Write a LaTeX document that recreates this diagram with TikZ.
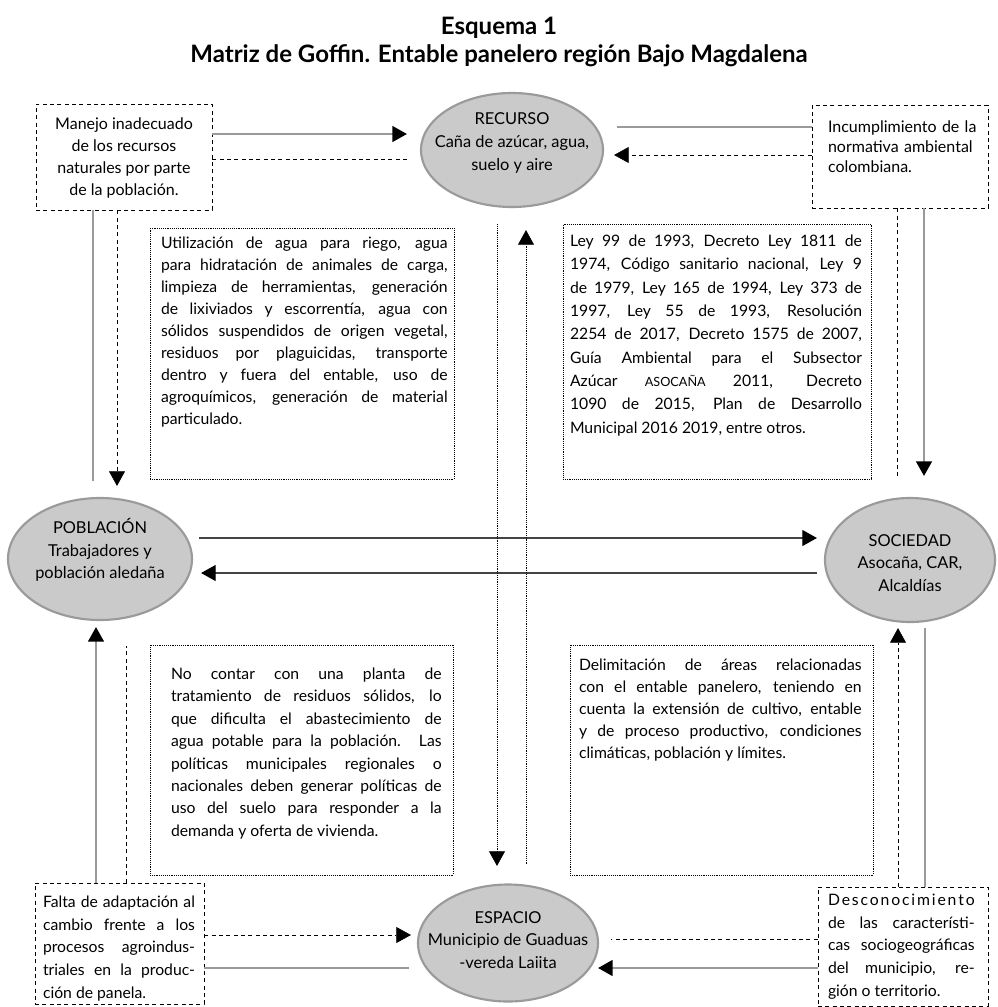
\documentclass[tikz,border=0pt]{standalone}
\usepackage{fontspec}
\setmainfont{Lato}
\usetikzlibrary{arrows.meta,calc,shapes.geometric}
\definecolor{EllipseFill}{HTML}{CACACA}
\definecolor{EllipseLine}{HTML}{9A9A9A}
\definecolor{LinkGray}{HTML}{9A9A9A}
\definecolor{LinkDark}{HTML}{444444}
\newcommand{\boxfont}{\fontsize{11.8pt}{16.5pt}\selectfont}
\newcommand{\actorfont}{\fontsize{12.3pt}{17pt}\selectfont}

\begin{document}
\begin{tikzpicture}[x=0.75pt,y=-0.75pt,line cap=butt,line join=miter,
    headed/.style={-{Triangle[length=11pt,width=12pt,color=black]}},
    actor/.style={ellipse,draw=EllipseLine,line width=1.6pt,fill=EllipseFill,inner sep=0pt},
    actortext/.style={align=center,font=\actorfont,inner sep=0pt},
    issue/.style={draw,thin,dash pattern=on 3pt off 2.5pt,inner sep=0pt},
    note/.style={draw,thin,densely dotted,inner sep=0pt},
    boxtext/.style={anchor=north west,inner sep=0pt,font=\boxfont,align=justify},
    link/.style={LinkGray,line width=1.3pt},
    dlink/.style={black,thin,dash pattern=on 3pt off 2.5pt},
    olink/.style={black,thin,densely dotted},
    mainlink/.style={LinkDark,line width=1pt}]

\useasboundingbox (0,0) rectangle (998,1007);

% Title
\node[align=center,font=\fontsize{18pt}{20.5pt}\selectfont\bfseries] (titulo) at (499,42)
    {Esquema 1\\Matriz de Goffin. Entable panelero región Bajo Magdalena};

% ---- ACTORS ----
\node[actor,minimum width=136.5pt,minimum height=85.5pt] (recurso) at (512,150) {};
\node[actor,minimum width=138pt,minimum height=91.5pt] (poblacion) at (100,559) {};
\node[actor,minimum width=127.5pt,minimum height=93pt] (sociedad) at (910,560) {};
\node[actor,minimum width=135pt,minimum height=87.75pt] (espacio) at (508,943) {};

\node[actortext] (recursoTxt) at ($(recurso)+(0,-7)$) {RECURSO\\Caña de azúcar, agua,\\suelo y aire};
\node[actortext] (poblacionTxt) at ($(poblacion)+(0,-9)$) {POBLACIÓN\\Trabajadores y\\población aledaña};
\node[actortext] (sociedadTxt) at ($(sociedad)+(0,3)$) {SOCIEDAD\\Asocaña, CAR,\\Alcaldías};
\node[actortext] (espacioTxt) at ($(espacio)+(0,-3)$) {ESPACIO\\Municipio de Guaduas\\-vereda Laiita};

% ---- PROBLEMS (dashed) ----
\node[issue,minimum width=132pt,minimum height=79.5pt] (manejo) at (124,157) {};
\node[issue,minimum width=132pt,minimum height=77.25pt] (incump) at (900,156.5) {};
\node[issue,minimum width=126.75pt,minimum height=90.75pt] (falta) at (119.5,943.5) {};
\node[issue,minimum width=127.5pt,minimum height=89.25pt] (desconoc) at (903,946.5) {};

\node[actortext,font=\fontsize{12pt}{16.3pt}\selectfont] (manejoTxt) at ($(manejo)+(0,1)$)
    {Manejo inadecuado\\de los recursos\\naturales por parte\\de la población.};
\node[boxtext,align=left,text width=125pt,font=\fontsize{12pt}{15pt}\selectfont] (incumpTxt)
    at ($(incump.north west)+(16,16)$) {Incumplimiento de la\\normativa ambiental\\colombiana.};
\node[boxtext,text width=114pt,font=\fontsize{11.8pt}{17pt}\selectfont] (faltaTxt)
    at ($(falta.north west)+(8,13)$)
    {Falta de adaptación al\linebreak cambio frente a los\linebreak procesos agroindus-\linebreak
     triales en la produc-\linebreak ción de panela.};
\node[boxtext,text width=110pt,font=\fontsize{11.8pt}{17pt}\selectfont] (desconocTxt)
    at ($(desconoc.north west)+(10,7)$)
    {\makebox[\linewidth][s]{D\hfil e\hfil s\hfil c\hfil o\hfil n\hfil o\hfil c\hfil i\hfil
     m\hfil i\hfil e\hfil n\hfil t\hfil o}\linebreak de las característi-\linebreak
     cas sociogeográficas\linebreak del municipio, re-\linebreak gión o territorio.};

% ---- RELATIONS (dotted) ----
\node[note,minimum width=228pt,minimum height=188.25pt] (usos) at (302,353.5) {};
\node[note,minimum width=231pt,minimum height=191.25pt] (normas) at (717,351.5) {};
\node[note,minimum width=227.25pt,minimum height=172.5pt] (planta) at (301.5,760) {};
\node[note,minimum width=227.25pt,minimum height=172.5pt] (delimit) at (721.5,760) {};

\node[boxtext,text width=215pt] (usosTxt) at ($(usos.north west)+(11,9)$)
    {Utilización de agua para riego, agua\linebreak para hidratación de animales de carga,\linebreak
     limpieza de herramientas, generación\linebreak de lixiviados y escorrentía, agua con\linebreak
     sólidos suspendidos de origen vegetal,\linebreak residuos por plaguicidas, transporte\linebreak
     dentro y fuera del entable, uso de\linebreak agroquímicos, generación de material\linebreak
     particulado.};
\node[boxtext,text width=219pt,font=\fontsize{11.8pt}{17.5pt}\selectfont] (normasTxt)
    at ($(normas.north west)+(7,11)$)
    {Ley 99 de 1993, Decreto Ley 1811 de\linebreak 1974, Código sanitario nacional, Ley 9\linebreak
     de 1979, Ley 165 de 1994, Ley 373 de\linebreak 1997, Ley 55 de 1993, Resolución\linebreak
     2254 de 2017, Decreto 1575 de 2007,\linebreak Guía Ambiental para el Subsector\linebreak
     Azúcar {\fontsize{9.5pt}{17.5pt}\selectfont ASOCAÑA} 2011, Decreto\linebreak
     1090 de 2015, Plan de Desarrollo\linebreak Municipal 2016 2019, entre otros.};
\node[boxtext,text width=203pt,font=\fontsize{11.8pt}{16.8pt}\selectfont] (plantaTxt)
    at ($(planta.north west)+(21,23)$)
    {No contar con una planta de\linebreak tratamiento de residuos sólidos, lo\linebreak
     que dificulta el abastecimiento de\linebreak agua potable para la población. Las\linebreak
     políticas municipales regionales o\linebreak nacionales deben generar políticas de\linebreak
     uso del suelo para responder a la\linebreak demanda y oferta de vivienda.};
\node[boxtext,text width=212pt] (delimitTxt) at ($(delimit.north west)+(9,14)$)
    {Delimitación de áreas relacionadas\linebreak con el entable panelero, teniendo en\linebreak
     cuenta la extensión de cultivo, entable\linebreak y de proceso productivo, condiciones\linebreak
     climáticas, población y límites.};

% ---- CONNECTORS ----
% top row
\draw[link,headed] ($(manejo.east)+(0,-23)$) -- ($(recurso.west)+(-13,-16)$);
\draw[dlink] ($(recurso.west)+(-13,9)$) -- ($(manejo.east)+(0,2)$);
\draw[link] ($(recurso.east)+(13,-23)$) -- ($(incump.west)+(0,-29.5)$);
\draw[dlink,headed] ($(incump.west)+(0,-1.5)$) -- ($(recurso.east)+(10,5)$);

% left and right columns
\draw[link] ($(manejo.south)+(-31,0)$) -- ($(poblacion.north)+(-7,-16)$);
\draw[dlink,headed] ($(manejo.south)+(-7,0)$) -- ($(poblacion.north)+(17,-11)$);
\draw[dlink] ($(incump.south)+(-3,0)$) -- ($(sociedad.north)+(-13,-18)$);
\draw[link,headed] ($(incump.south)+(24,0)$) -- ($(sociedad.north)+(14,-21)$);

\draw[link,headed] ($(falta.north)+(-23.5,0)$) -- ($(poblacion.south)+(-4,6)$);
\draw[dlink] ($(falta.north)+(6.5,0)$) -- ($(poblacion.south)+(26,25)$);
\draw[dlink,headed] ($(desconoc.north)+(-5,0)$) -- ($(sociedad.south)+(-12,5)$);
\draw[link] ($(desconoc.north)+(22,0)$) -- ($(sociedad.south)+(15,5)$);

% middle
\draw[mainlink,headed] ($(poblacion.east)+(6,-21)$) -- ($(sociedad.west)+(-7,-22)$);
\draw[mainlink,headed] ($(sociedad.west)+(-7,13)$) -- ($(poblacion.east)+(8,14)$);
\draw[olink,headed] ($(recurso.south)+(-15,16)$) -- ($(espacio.north)+(-11,-17.5)$);
\draw[olink,headed] ($(espacio.north)+(18,-19.5)$) -- ($(recurso.south)+(14,22)$);

% bottom row
\draw[dlink,headed] ($(falta.east)+(0,-8.5)$) -- ($(espacio.west)+(-6,-8)$);
\draw[link] ($(falta.east)+(0,24.5)$) -- ($(espacio.west)+(-8,25)$);
\draw[dlink] ($(desconoc.west)+(0,-7.5)$) -- ($(espacio.east)+(12,-4)$);
\draw[link,headed] ($(desconoc.west)+(0,21.5)$) -- ($(espacio.east)+(-1,25)$);

\end{tikzpicture}
\end{document}
